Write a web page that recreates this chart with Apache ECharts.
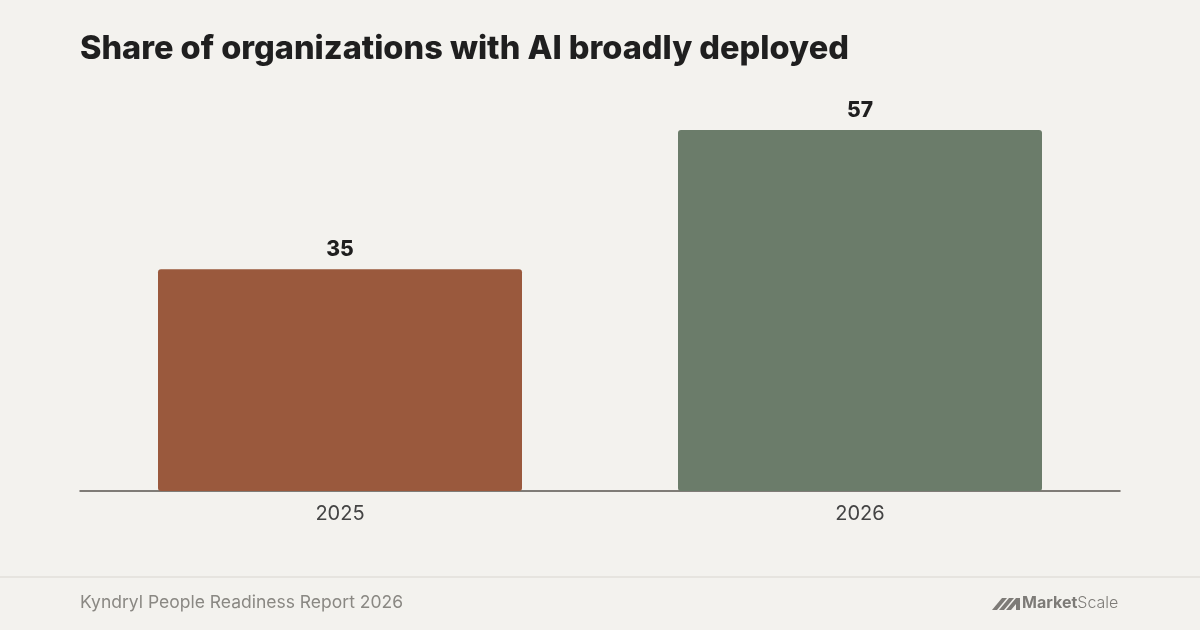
<!DOCTYPE html>
<html>
<head>
<meta charset="utf-8">
<script src="https://cdn.jsdelivr.net/npm/echarts@6/dist/echarts.min.js"></script>
<style>
  html, body { margin: 0; padding: 0; background: #f3f2ee; }
  #chart { width: 1200px; height: 630px; }
</style>
</head>
<body>
<div id="chart"></div>
<script>
// data
var years = ['2025', '2026'];
var shares = [35, 57];
var barColors = ['#9a593d', '#6b7c6a'];

var font = 'Inter, "Noto Sans", sans-serif';

var chart = echarts.init(document.getElementById('chart'));

var option = {
    backgroundColor: '#f3f2ee',
    animation: false,
    title: {
        text: 'Share of organizations with AI broadly deployed',
        left: 75,
        top: 28,
        textStyle: {
            fontFamily: font,
            fontSize: 32.5,
            fontWeight: 800,
            color: '#1f1f1f'
        }
    },
    grid: {
        left: 80,
        right: 80,
        top: 111,
        bottom: 139
    },
    xAxis: {
        type: 'category',
        data: years,
        axisLine: { lineStyle: { color: '#5a5650', width: 1.5 } },
        axisTick: { show: false },
        axisLabel: {
            margin: 13,
            fontFamily: font,
            fontSize: 20,
            color: '#444'
        }
    },
    yAxis: {
        type: 'value',
        min: 0,
        max: 60,
        show: false,
        splitLine: { show: false }
    },
    series: [{
        type: 'bar',
        barWidth: '70%',
        data: shares.map(function (v, i) {
            return { value: v, itemStyle: { color: barColors[i] } };
        }),
        itemStyle: { borderRadius: 3 },
        label: {
            show: true,
            position: 'top',
            distance: 9,
            fontFamily: font,
            fontSize: 21,
            fontWeight: 800,
            color: '#1f1f1f'
        }
    }],
    graphic: [
        // footer separator
        {
            type: 'rect',
            shape: { x: 0, y: 576, width: 1200, height: 2 },
            style: { fill: '#e6e4df' }
        },
        {
            type: 'text',
            left: 80,
            top: 594,
            style: {
                text: 'Kyndryl People Readiness Report 2026',
                fontFamily: font,
                fontSize: 17.5,
                fill: '#8a8883'
            }
        },
        // logo mark
        {
            type: 'polygon',
            shape: { points: [[992, 610], [1002, 598], [1007, 598], [997, 610]] },
            style: { fill: '#7d7b77' }
        },
        {
            type: 'polygon',
            shape: { points: [[999, 610], [1009, 598], [1014, 598], [1004, 610]] },
            style: { fill: '#7d7b77' }
        },
        {
            type: 'polygon',
            shape: { points: [[1006, 610], [1016, 598], [1020, 598], [1020, 610], [1016, 610], [1016, 604], [1011, 610]] },
            style: { fill: '#7d7b77' }
        },
        {
            type: 'text',
            left: 1022,
            top: 595,
            style: {
                rich: {
                    a: { fontFamily: font, fontSize: 16, fontWeight: 'bold', fill: '#7d7b77' },
                    b: { fontFamily: font, fontSize: 16, fontWeight: 300, fill: '#7d7b77' }
                },
                text: '{a|Market}{b|Scale}'
            }
        }
    ]
};

chart.setOption(option);
</script>
</body>
</html>
